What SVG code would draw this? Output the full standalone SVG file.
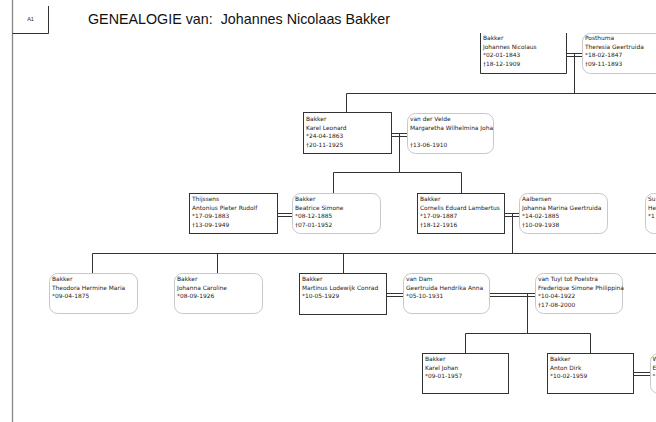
<svg xmlns="http://www.w3.org/2000/svg" width="656" height="422" viewBox="0 0 656 422">
<style>
.bg{fill:#fff}
.rb{fill:#fff;stroke:#333;stroke-width:1}
.ob{fill:#fff;stroke:#c8c8c8;stroke-width:1}
.ln{fill:none;stroke:#333;stroke-width:1}
.pg{fill:none;stroke:#888;stroke-width:1.3}
.t{font-family:"DejaVu Sans",sans-serif;font-size:5.9px;fill:#222}
.title{font-family:"Liberation Sans",Arial,sans-serif;font-size:14.3px;fill:#111;white-space:pre}
.a1{font-family:"Liberation Sans",Arial,sans-serif;font-size:5.5px;fill:#222}
</style>
<defs>
<clipPath id="cvdv"><rect x="407" y="113" width="86" height="41"/></clipPath>
</defs>
<rect class="bg" x="0" y="0" width="656" height="422"/>
<g id="page">
<path class="pg" d="M12.5,0 V422"/>
<path class="ln" d="M48.5,6 V33.5 H12.5"/>
<text class="a1" x="30.5" y="21" text-anchor="middle">A1</text>
<text class="title" x="88" y="24" xml:space="preserve">GENEALOGIE van:  Johannes Nicolaas Bakker</text>
</g>
<g id="connectors">
<path class="ln" d="M566.5,53.5 H582.5 M566.5,56.5 H582.5 M574.5,53.5 V93.5 M346.5,93.5 H656 M346.5,93.5 V112.5"/>
<path class="ln" d="M391.5,133.5 H407.5 M391.5,136.5 H407.5 M399.5,133.5 V172.5 M333.5,172.5 H461.5 M333.5,172.5 V193.5 M461.5,172.5 V193.5"/>
<path class="ln" d="M277.5,213.5 H292.5 M277.5,216.5 H292.5"/>
<path class="ln" d="M504.5,213.5 H519.5 M504.5,216.5 H519.5 M512.5,213.5 V253.5 M92.5,253.5 H656 M92.5,253.5 V273.5 M217.5,253.5 V273.5 M343.5,253.5 V273.5"/>
<path class="ln" d="M386.5,293.5 H403.5 M386.5,296.5 H403.5 M489.5,293.5 H535.5 M489.5,296.5 H535.5 M527.5,293.5 V333.5 M465.5,333.5 H590.5 M465.5,333.5 V353.5 M590.5,333.5 V353.5"/>
<path class="ln" d="M633.5,372.5 H650.5 M633.5,375.5 H650.5"/>
</g>
<g id="n_jn">
<path class="rb" d="M480.5,33 V73.5 H566.5 V33"/>
<text class="t" x="483" y="40">Bakker</text>
<text class="t" x="483" y="48.5">Johannes Nicolaus</text>
<text class="t" x="483" y="57">*02-01-1843</text>
<text class="t" x="483" y="65.5">†18-12-1909</text>
</g>
<g id="n_posthuma">
<rect class="ob" x="582.5" y="33.5" width="90" height="40" rx="8"/>
<text class="t" x="585" y="40">Posthuma</text>
<text class="t" x="585" y="48.5">Theresia Geertruida</text>
<text class="t" x="585" y="57">*18-02-1847</text>
<text class="t" x="585" y="65.5">†09-11-1893</text>
</g>
<g id="n_kl">
<rect class="rb" x="303.5" y="112.5" width="88" height="41"/>
<text class="t" x="306" y="121">Bakker</text>
<text class="t" x="306" y="129.5">Karel Leonard</text>
<text class="t" x="306" y="138">*24-04-1863</text>
<text class="t" x="306" y="146.5">†20-11-1925</text>
</g>
<g id="n_vdv">
<rect class="ob" x="407.5" y="113.5" width="86" height="40" rx="8"/>
<g clip-path="url(#cvdv)">
<text class="t" x="410" y="121">van der Velde</text>
<text class="t" x="410" y="129.5">Margaretha Wilhelmina Johar</text>
<text class="t" x="410" y="146.5">†13-06-1910</text>
</g>
</g>
<g id="n_thijssens">
<rect class="rb" x="189.5" y="193.5" width="88" height="40"/>
<text class="t" x="192" y="201">Thijssens</text>
<text class="t" x="192" y="209.5">Antonius Pieter Rudolf</text>
<text class="t" x="192" y="218">*17-09-1883</text>
<text class="t" x="192" y="226.5">†13-09-1949</text>
</g>
<g id="n_bs">
<rect class="ob" x="292.5" y="193.5" width="88" height="40" rx="8"/>
<text class="t" x="295" y="201">Bakker</text>
<text class="t" x="295" y="209.5">Beatrice Simone</text>
<text class="t" x="295" y="218">*08-12-1885</text>
<text class="t" x="295" y="226.5">†07-01-1952</text>
</g>
<g id="n_cel">
<rect class="rb" x="417.5" y="193.5" width="87" height="40"/>
<text class="t" x="420" y="201">Bakker</text>
<text class="t" x="420" y="209.5">Cornelis Eduard Lambertus</text>
<text class="t" x="420" y="218">*17-09-1887</text>
<text class="t" x="420" y="226.5">†18-12-1916</text>
</g>
<g id="n_aalbersen">
<rect class="ob" x="519.5" y="193.5" width="88" height="40" rx="8"/>
<text class="t" x="522" y="201">Aalbersen</text>
<text class="t" x="522" y="209.5">Johanna Marina Geertruida</text>
<text class="t" x="522" y="218">*14-02-1885</text>
<text class="t" x="522" y="226.5">†10-09-1938</text>
</g>
<g id="n_su">
<rect class="ob" x="645.5" y="193.5" width="60" height="40" rx="8"/>
<text class="t" x="648" y="201">Su</text>
<text class="t" x="648" y="209.5">He</text>
<text class="t" x="648" y="218">*1</text>
</g>
<g id="n_theodora">
<rect class="ob" x="49.5" y="273.5" width="88" height="40" rx="8"/>
<text class="t" x="52" y="281">Bakker</text>
<text class="t" x="52" y="289.5">Theodora Hermine Maria</text>
<text class="t" x="52" y="298">*09-04-1875</text>
</g>
<g id="n_johanna">
<rect class="ob" x="174.5" y="273.5" width="88" height="40" rx="8"/>
<text class="t" x="177" y="281">Bakker</text>
<text class="t" x="177" y="289.5">Johanna Caroline</text>
<text class="t" x="177" y="298">*08-09-1926</text>
</g>
<g id="n_mlc">
<rect class="rb" x="299.5" y="273.5" width="87" height="41"/>
<text class="t" x="302" y="281">Bakker</text>
<text class="t" x="302" y="289.5">Martinus Lodewijk Conrad</text>
<text class="t" x="302" y="298">*10-05-1929</text>
</g>
<g id="n_vandam">
<rect class="ob" x="403.5" y="273.5" width="86" height="40" rx="8"/>
<text class="t" x="406" y="281">van Dam</text>
<text class="t" x="406" y="289.5">Geertruida Hendrika Anna</text>
<text class="t" x="406" y="298">*05-10-1931</text>
</g>
<g id="n_vantuyl">
<rect class="ob" x="535.5" y="273.5" width="87" height="40" rx="8"/>
<text class="t" x="538" y="281">van Tuyl tot Poelstra</text>
<text class="t" x="538" y="289.5">Frederique Simone Philippina</text>
<text class="t" x="538" y="298">*10-04-1922</text>
<text class="t" x="538" y="306.5">†17-08-2000</text>
</g>
<g id="n_kj">
<rect class="rb" x="422.5" y="353.5" width="86" height="40"/>
<text class="t" x="425" y="361">Bakker</text>
<text class="t" x="425" y="369.5">Karel Johan</text>
<text class="t" x="425" y="378">*09-01-1957</text>
</g>
<g id="n_ad">
<rect class="rb" x="547.5" y="353.5" width="86" height="40"/>
<text class="t" x="550" y="361">Bakker</text>
<text class="t" x="550" y="369.5">Anton Dirk</text>
<text class="t" x="550" y="378">*10-02-1959</text>
</g>
<g id="n_w">
<rect class="ob" x="650.5" y="353.5" width="60" height="40" rx="8"/>
<text class="t" x="652.5" y="361">W</text>
<text class="t" x="652.5" y="369.5">E</text>
<text class="t" x="652.5" y="378">*</text>
</g>
</svg>
